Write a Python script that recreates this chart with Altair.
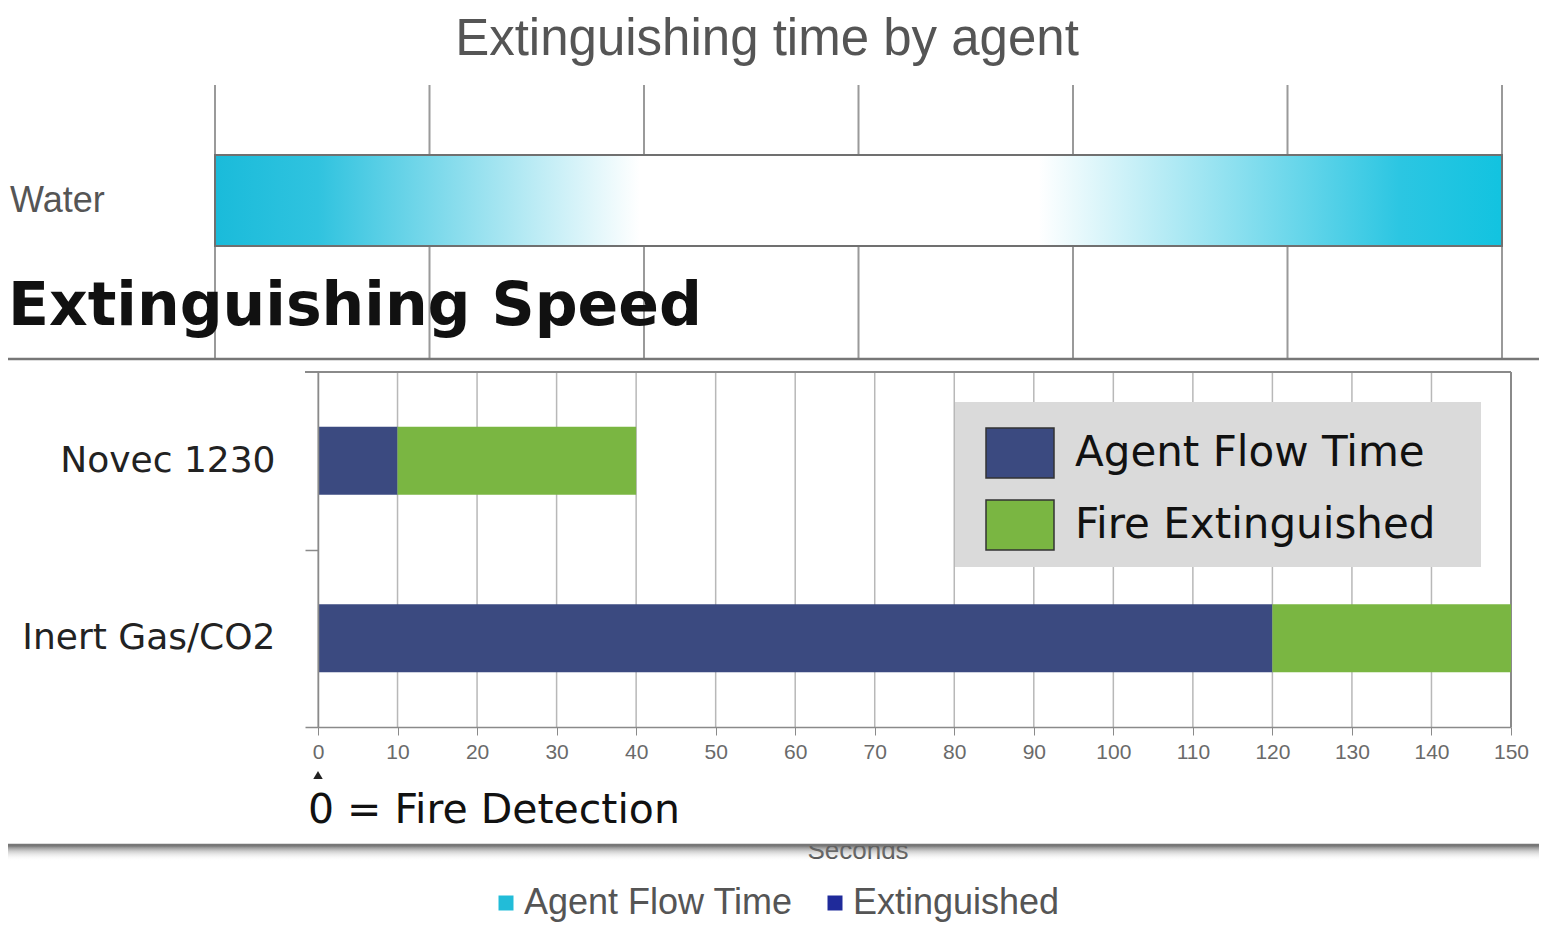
import altair as alt
import pandas as pd

# ---------------- data ----------------
# background chart (partly hidden)
main_title = "Extinguishing time by agent"
bg_agents = ["Water"]
bg_flow_time = [60]
bg_ticks = [0, 10, 20, 30, 40, 50, 60]
bg_series = ["Agent Flow Time", "Extinguished"]
bg_colors = ["#22BCD8", "#1F2A9A"]
bg_axis_title = "Seconds"

# inset chart
inset_title = "Extinguishing Speed"
agents = ["Novec 1230", "Inert Gas/CO2"]
flow_time = [10, 120]
extinguished_time = [40, 150]
inset_series = ["Agent Flow Time", "Fire Extinguished"]
inset_colors = ["#3B4A80", "#7AB642"]
inset_ticks = [0, 10, 20, 30, 40, 50, 60, 70, 80, 90, 100, 110, 120, 130, 140, 150]
detection_note = "0 = Fire Detection"

# ---------------- tables ----------------
bg_df = pd.DataFrame({"agent": bg_agents, "start": [0] * len(bg_agents), "end": bg_flow_time})
bg_tick_df = pd.DataFrame({"t": bg_ticks})
bg_legend_df = pd.DataFrame({"series": bg_series})

rows = []
for a, f, e in zip(agents, flow_time, extinguished_time):
    rows.append({"agent": a, "series": inset_series[0], "start": 0, "end": f})
    rows.append({"agent": a, "series": inset_series[1], "start": f, "end": e})
inset_df = pd.DataFrame(rows)
inset_tick_df = pd.DataFrame({"t": inset_ticks})
agent_df = pd.DataFrame({"agent": agents})
one = pd.DataFrame({"k": [0]})

# ---------------- layout ----------------
W, H = 1531, 916
bg_x = alt.Scale(domain=[bg_ticks[0], bg_ticks[-1]], range=[207, 1494], nice=False, zero=False)
bg_y = alt.Scale(domain=bg_agents, range=[147, 238], paddingInner=0, paddingOuter=0)
in_x = alt.Scale(domain=[inset_ticks[0], inset_ticks[-1]], range=[310, 1503], nice=False, zero=False)
in_y = alt.Scale(domain=agents, range=[364, 719], paddingInner=0.617, paddingOuter=0.3085)
half_step = (719 - 364) / len(agents) / 2

water_grad = alt.Gradient(
    gradient="linear", x1=0, x2=1, y1=0, y2=0,
    stops=[
        alt.GradientStop(color="#1ABBDA", offset=0),
        alt.GradientStop(color="#30C3DF", offset=0.08),
        alt.GradientStop(color="#FFFFFF", offset=0.33),
        alt.GradientStop(color="#FFFFFF", offset=0.64),
        alt.GradientStop(color="#2CC6E2", offset=0.92),
        alt.GradientStop(color="#12C3E0", offset=1),
    ],
)
shadow_grad = alt.Gradient(
    gradient="linear", x1=0, x2=0, y1=0, y2=1,
    stops=[
        alt.GradientStop(color="rgba(80,80,80,0.85)", offset=0),
        alt.GradientStop(color="rgba(150,150,150,0.45)", offset=0.4),
        alt.GradientStop(color="rgba(255,255,255,0)", offset=1),
    ],
)

# ---------------- background chart ----------------
bg_grid = alt.Chart(bg_tick_df).mark_rule(color="#9A9A9A", strokeWidth=2).encode(
    x=alt.X("t:Q", scale=bg_x, axis=None), y=alt.value(77), y2=alt.value(834)
)
water = alt.Chart(bg_df).mark_bar(color=water_grad, stroke="#707070", strokeWidth=2).encode(
    x=alt.X("start:Q", scale=bg_x, axis=None),
    x2="end:Q",
    y=alt.Y("agent:N", scale=bg_y, axis=None),
)
water_label = alt.Chart(bg_df).mark_text(
    align="left", baseline="middle", font="Liberation Sans", fontSize=36, color="#555555"
).encode(y=alt.Y("agent:N", scale=bg_y, axis=None), x=alt.value(2), text="agent:N")
title_txt = alt.Chart(one).mark_text(
    text=main_title, align="center", baseline="alphabetic", font="Liberation Sans", fontSize=51, color="#555555"
).encode(x=alt.value(759), y=alt.value(47))
seconds_txt = alt.Chart(one).mark_text(
    text=bg_axis_title, align="center", baseline="alphabetic", font="Liberation Sans", fontSize=26, color="#444444"
).encode(x=alt.value(850), y=alt.value(851))
bg_legend = alt.Chart(bg_legend_df).mark_rect().encode(
    x=alt.value(0), x2=alt.value(0), y=alt.value(0), y2=alt.value(0),
    color=alt.Color(
        "series:N",
        scale=alt.Scale(domain=bg_series, range=bg_colors),
        legend=alt.Legend(
            title=None, orient="none", legendX=480, legendY=877, direction="horizontal",
            symbolType="square", symbolSize=225, symbolStrokeWidth=0,
            labelFont="Liberation Sans", labelFontSize=36, labelColor="#555555",
            labelOffset=0, columnPadding=24, labelLimit=600,
        ),
    ),
)

# ---------------- inset panel ----------------
shadow = alt.Chart(one).mark_rect(fill=shadow_grad).encode(
    x=alt.value(0), x2=alt.value(1539), y=alt.value(837), y2=alt.value(853)
)
box = alt.Chart(one).mark_rect(fill="white", stroke="#777777", strokeWidth=2.5).encode(
    x=alt.value(-8), x2=alt.value(1537), y=alt.value(351), y2=alt.value(837)
)
inset_title_txt = alt.Chart(one).mark_text(
    text=inset_title, align="left", baseline="alphabetic", font="DejaVu Sans", fontSize=60,
    fontWeight="bold", color="#111111"
).encode(x=alt.value(0), y=alt.value(317))
in_grid = alt.Chart(inset_tick_df).mark_rule(color="#B8B8B8", strokeWidth=1.5).encode(
    x=alt.X("t:Q", scale=in_x, axis=None), y=alt.value(364), y2=alt.value(719)
)
frame_top = alt.Chart(one).mark_rule(color="#8A8A8A", strokeWidth=2).encode(
    x=alt.value(297), x2=alt.value(1503), y=alt.value(364)
)
frame_right = alt.Chart(one).mark_rule(color="#8A8A8A", strokeWidth=2).encode(
    x=alt.XDatum(inset_ticks[-1], scale=in_x, axis=None), y=alt.value(364), y2=alt.value(719)
)
legend_box = alt.Chart(one).mark_rect(fill="#DADADA").encode(
    x=alt.value(947), x2=alt.value(1473), y=alt.value(394), y2=alt.value(559)
)
bars = alt.Chart(inset_df).mark_bar().encode(
    x=alt.X(
        "start:Q", scale=in_x,
        axis=alt.Axis(
            orient="bottom", offset=719 - H, values=inset_ticks, title=None, grid=False,
            labelFont="Liberation Sans", labelFontSize=21, labelColor="#6A6A6A", labelFlush=False,
            labelPadding=6, tickSize=8, tickColor="#8A8A8A", domainColor="#8A8A8A", domainWidth=1.5,
            zindex=1,
        ),
    ),
    x2="end:Q",
    y=alt.Y(
        "agent:N", scale=in_y, sort=agents,
        axis=alt.Axis(
            orient="left", offset=-310, title=None, grid=False, ticks=False,
            domainColor="#8A8A8A", domainWidth=1.5,
            labelFont="DejaVu Sans", labelFontSize=36, labelColor="#222222", labelPadding=43,
            labelLimit=600, zindex=1,
        ),
    ),
    color=alt.Color(
        "series:N",
        scale=alt.Scale(domain=inset_series, range=inset_colors),
        legend=alt.Legend(
            title=None, orient="none", legendX=977, legendY=410, direction="vertical",
            padding=0, symbolType="M-1,-0.735H1V0.735H-1Z", symbolSize=4624,
            symbolStrokeColor="#333333", symbolStrokeWidth=1.5,
            labelFont="DejaVu Sans", labelFontSize=42, labelColor="#111111",
            labelOffset=20, rowPadding=9, labelLimit=600,
        ),
    ),
)
# band-boundary ticks on the category axis
y_ticks = alt.Chart(agent_df).mark_point(opacity=0).encode(
    x=alt.value(0),
    y=alt.Y(
        "agent:N", scale=in_y, sort=agents,
        axis=alt.Axis(
            orient="left", offset=-310, title=None, grid=False, labels=False, domain=False,
            tickSize=13, tickColor="#8A8A8A", tickWidth=1.5, tickOffset=half_step, zindex=1,
        ),
    ),
)
marker = alt.Chart(one).mark_point(shape="triangle-up", filled=True, size=90, color="#222222", opacity=1).encode(
    x=alt.XDatum(inset_ticks[0], scale=in_x, axis=None), y=alt.value(767)
)
note = alt.Chart(one).mark_text(
    text=detection_note, align="left", baseline="alphabetic", font="DejaVu Sans", fontSize=41, color="#111111"
).encode(x=alt.value(300), y=alt.value(815))

chart = (
    alt.layer(
        bg_grid, water, water_label, title_txt, seconds_txt, bg_legend,
        shadow, box, inset_title_txt, in_grid, frame_top, frame_right, legend_box,
        bars, y_ticks, marker, note,
    )
    .resolve_scale(x="independent", y="independent", color="independent")
    .properties(width=W, height=H, autosize=alt.AutoSizeParams(type="none"), padding=0)
    .configure_view(stroke=None)
)

chart.save("out.html", embed_options={"renderer": "svg", "actions": False})
